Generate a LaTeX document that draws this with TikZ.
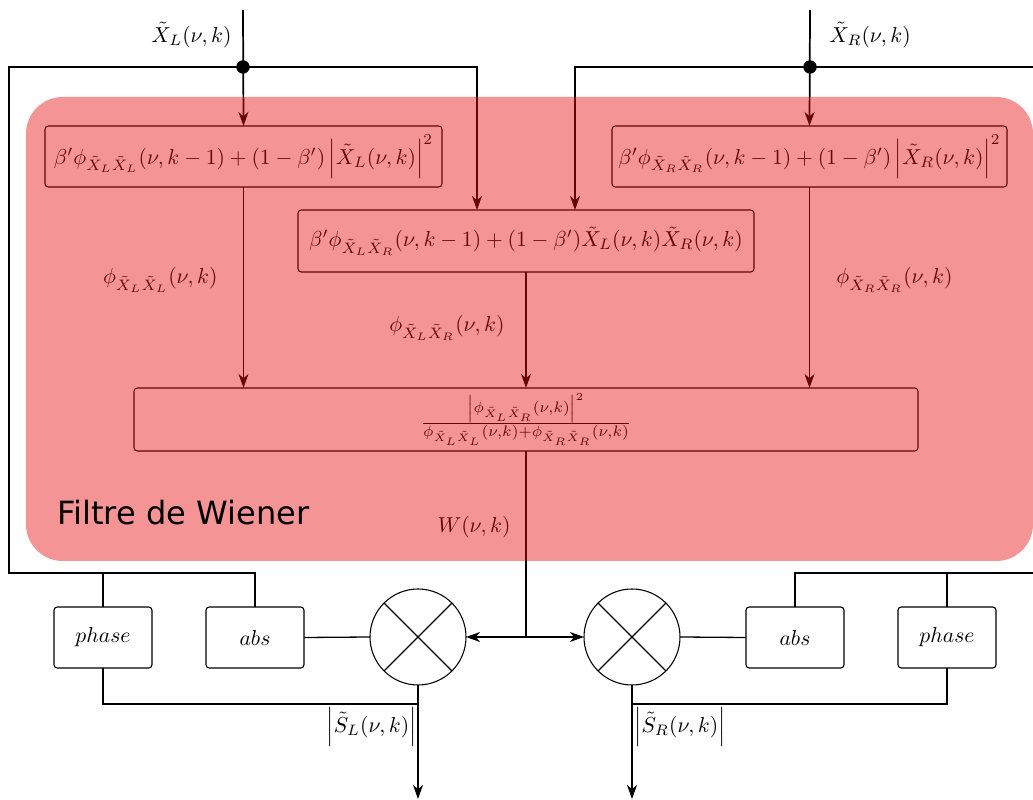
\documentclass[tikz,border=0pt]{standalone}
\usepackage{amsmath}
\usepackage{fontspec}
\newfontfamily\labelfont{DejaVu Sans}
\usetikzlibrary{arrows.meta}
\definecolor{wienerred}{RGB}{230,12,12}
\def\u{0.462pt}
\begin{document}
\begin{tikzpicture}[x=0.462pt,y=-0.462pt,
  box/.style={draw, line width=0.5pt, rounded corners=1.5pt, inner sep=0pt, outer sep=0pt, align=center},
  mult/.style={draw, line width=0.5pt, circle, minimum size=96*\u, inner sep=0pt, outer sep=0pt},
  wire/.style={line width=0.6pt},
  flow/.style={line width=0.8pt, -{Stealth[length=6.5pt,width=4.6pt,inset=2pt]}},
  thickwire/.style={line width=0.8pt},
  lbl/.style={inner sep=0pt}]
\useasboundingbox (0,0) rectangle (1033,800);

% boxes
\node[box, minimum width=397*\u, minimum height=61*\u] (bL) at (243.5,156.5)
  {$\beta'\phi_{\tilde X_L\tilde X_L}(\nu,k-1)+(1-\beta')\left|\tilde X_L(\nu,k)\right|^2$};
\node[box, minimum width=395*\u, minimum height=61*\u] (bR) at (809.5,156.5)
  {$\beta'\phi_{\tilde X_R\tilde X_R}(\nu,k-1)+(1-\beta')\left|\tilde X_R(\nu,k)\right|^2$};
\node[box, minimum width=456*\u, minimum height=62*\u] (bLR) at (526,241)
  {$\beta'\phi_{\tilde X_L\tilde X_R}(\nu,k-1)+(1-\beta')\tilde X_L(\nu,k)\tilde X_R(\nu,k)$};
\node[box, minimum width=784*\u, minimum height=63*\u] (bW) at (526,419.5)
  {$\frac{\left|\phi_{\tilde X_L\tilde X_R}(\nu,k)\right|^2}{\phi_{\tilde X_L\tilde X_L}(\nu,k)+\phi_{\tilde X_R\tilde X_R}(\nu,k)}$};

\node[mult] (mL) at (418,637) {};
\node[mult] (mR) at (632,637) {};
\draw[line width=0.5pt] (mL.45) -- (mL.225) (mL.135) -- (mL.315);
\draw[line width=0.5pt] (mR.45) -- (mR.225) (mR.135) -- (mR.315);

\node[box, minimum width=98*\u, minimum height=61*\u] (phL) at (103,637.5) {$phase$};
\node[box, minimum width=98*\u, minimum height=61*\u] (abL) at (255,637.5) {$abs$};
\node[box, minimum width=98*\u, minimum height=61*\u] (abR) at (795,637.5) {$abs$};
\node[box, minimum width=98*\u, minimum height=61*\u] (phR) at (947,637.5) {$phase$};

% coordinates
\coordinate (inL) at (243,10);
\coordinate (dotL) at (243,67);
\coordinate (inR) at (810,10);
\coordinate (dotR) at (810,67);
\coordinate (lpA) at (9,67);
\coordinate (lpB) at (9,573);
\coordinate (lpC) at (103,573);
\coordinate (tL) at (477,210);
\coordinate (tR) at (575,210);
\coordinate (rrA) at (1033,67);
\coordinate (rrB) at (1033,573);
\coordinate (rrC) at (947,573);
\coordinate (wj) at (526,637);
\coordinate (jL) at (418,704);
\coordinate (jR) at (632,704);
\coordinate (outL) at (418,799);
\coordinate (outR) at (632,799);

% inputs
\draw[flow] (inL) -- (bL.north);
\draw[flow] (inR) -- (bR.north);
\draw[wire] (dotL) -- (lpA) -- (lpB) -| (abL.north);
\draw[wire] (lpC) -- (phL.north);
\draw[flow] (dotL) -| (tL);
\draw[flow] (dotR) -| (tR);
\draw[wire] (dotR) -- (rrA);
\draw[wire] (rrB) -| (abR.north);
\draw[wire] (rrC) -- (phR.north);
\fill (dotL) circle[radius=3.1pt];
\fill (dotR) circle[radius=3.1pt];

% internal flows
\draw[flow] (bL.south) -- (bL.south |- bW.north);
\draw[flow] (bR.south) -- (bR.south |- bW.north);
\draw[flow] (bLR.south) -- (bLR.south |- bW.north);

% Wiener gain to multipliers
\draw[thickwire] (bW.south) -- (wj);
\draw[flow] (wj) -- (mL.east);
\draw[flow] (wj) -- (mR.west);
\draw[wire] (abL.east) -- (mL.west);
\draw[wire] (mR.east) -- (abR.west);
\draw[wire] (phL.south) |- (jL);
\draw[wire] (phR.south) |- (jR);
\draw[flow] (mL.south) -- (outL);
\draw[flow] (mR.south) -- (outR);

% labels
\node[lbl, anchor=east] (lXL) at (232,35) {$\tilde X_L(\nu,k)$};
\node[lbl, anchor=west] (lXR) at (829,35) {$\tilde X_R(\nu,k)$};
\node[lbl, anchor=east] (lLL) at (218,280) {$\phi_{\tilde X_L\tilde X_L}(\nu,k)$};
\node[lbl, anchor=west] (lRR) at (836,280) {$\phi_{\tilde X_R\tilde X_R}(\nu,k)$};
\node[lbl, anchor=east] (lLR) at (505,328) {$\phi_{\tilde X_L\tilde X_R}(\nu,k)$};
\node[lbl, anchor=east] (lW) at (511,527) {$W(\nu,k)$};
\node[lbl, anchor=east] (lSL) at (417,727) {$\left|\tilde S_L(\nu,k)\right|$};
\node[lbl, anchor=west] (lSR) at (634,727) {$\left|\tilde S_R(\nu,k)\right|$};

% red overlay
\fill[wienerred, fill opacity=0.44, rounded corners=17pt] (26,97) rectangle (1033,561);
\node[lbl, anchor=base west, font=\labelfont\fontsize{14.8}{17}\selectfont] (title) at (57,525) {Filtre de Wiener};
\end{tikzpicture}
\end{document}
